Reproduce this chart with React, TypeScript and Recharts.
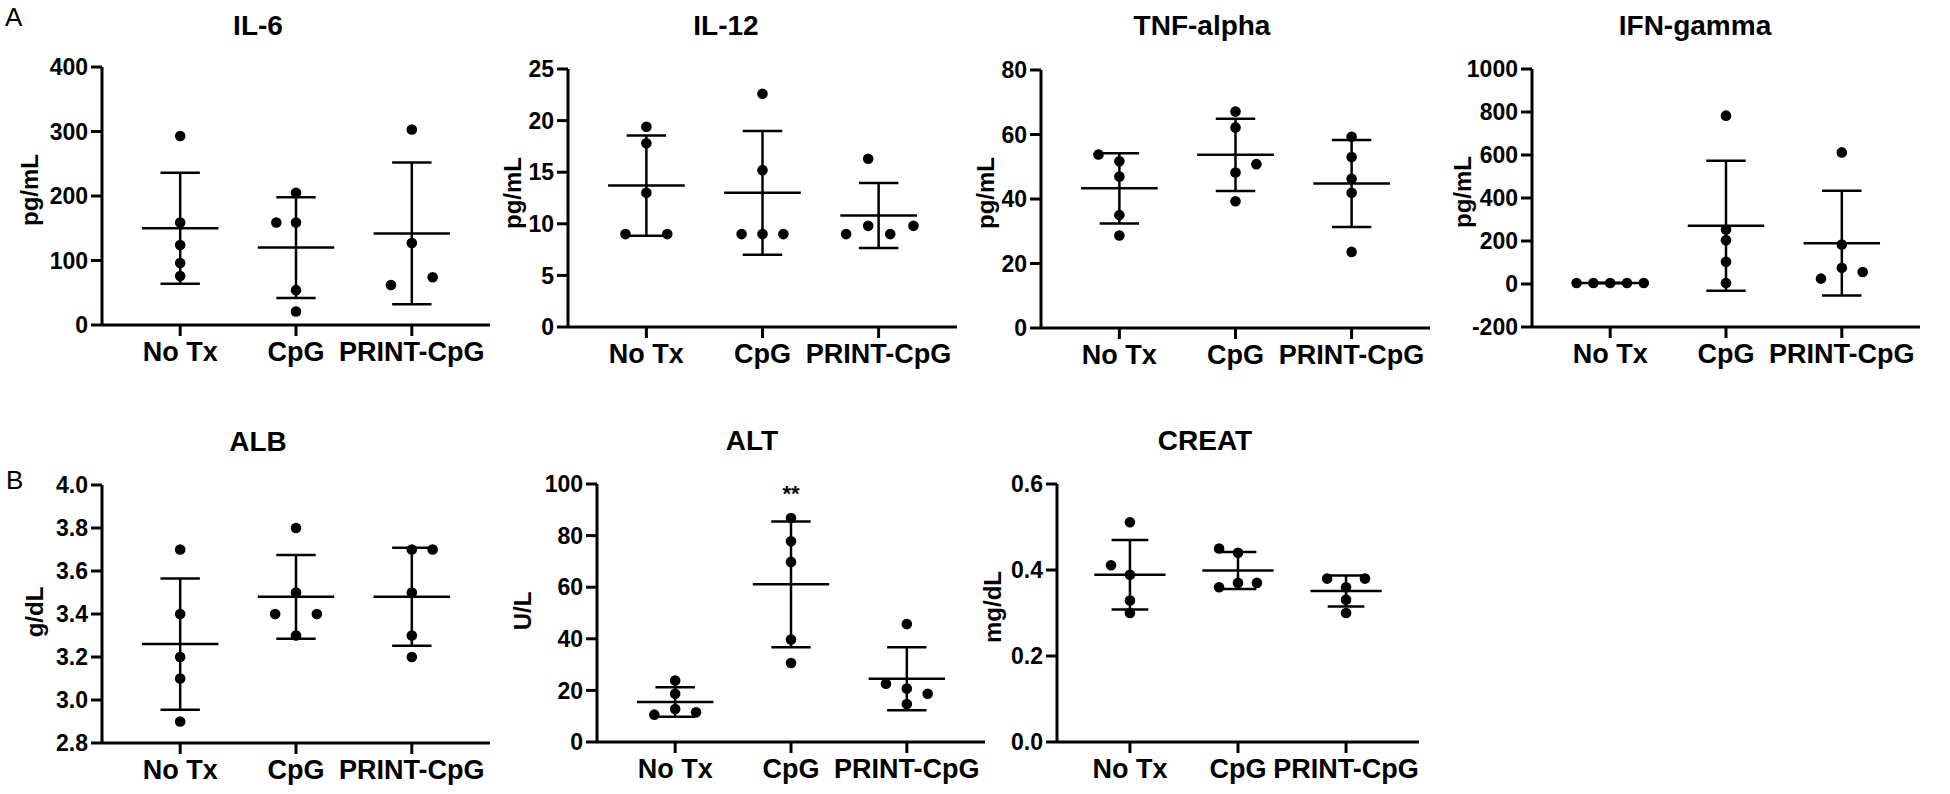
import { ScatterChart, Scatter, XAxis, YAxis, ReferenceLine, ReferenceDot } from "recharts";

const groups = ["No Tx", "CpG", "PRINT-CpG"];

// IL-6 (pg/mL)
const il6Values = [[293, 159, 124, 96, 76], [205, 159, 159, 54, 21], [303, 127, 62, 74]];
const il6Jitter = [[0, 0, 0, 0, 0], [0, -0.17, 0, 0, 0], [0, 0, -0.18, 0.18]];
const il6Mean = [150, 120, 142];
const il6Sd = [86, 78, 110];
const il6Ticks = [0, 100, 200, 300, 400];

// IL-12 (pg/mL)
const il12Values = [[19.4, 17.8, 13.0, 9.0, 9.0], [22.6, 15.2, 9.0, 9.0, 9.0], [16.3, 9.0, 9.8, 9.0, 9.8]];
const il12Jitter = [[0, 0, 0, -0.18, 0.18], [0, 0, -0.18, 0, 0.18], [-0.09, -0.28, -0.09, 0.1, 0.3]];
const il12Mean = [13.7, 13.0, 10.8];
const il12Sd = [4.85, 6.0, 3.15];
const il12Ticks = [0, 5, 10, 15, 20, 25];

// TNF-alpha (pg/mL)
const tnfValues = [[53.8, 51.7, 47.0, 35.0, 28.7], [67.1, 62.2, 50.8, 48.2, 39.3], [59.3, 53.0, 46.3, 41.9, 23.6]];
const tnfJitter = [[-0.18, 0, 0, 0, 0], [0, 0, 0.18, 0, 0], [0, 0, 0, 0, 0]];
const tnfMean = [43.3, 53.7, 44.8];
const tnfSd = [10.9, 11.2, 13.5];
const tnfTicks = [0, 20, 40, 60, 80];

// IFN-gamma (pg/mL)
const ifnValues = [[5, 5, 5, 5, 5], [783, 253, 204, 103, 5], [612, 184, 75, 25, 56]];
const ifnJitter = [[-0.29, -0.145, 0, 0.145, 0.29], [0, 0, 0, 0, 0], [0, 0, 0, -0.18, 0.18]];
const ifnMean = [5, 271, 190];
const ifnSd = [0, 302, 244];
const ifnTicks = [-200, 0, 200, 400, 600, 800, 1000];

// ALB (g/dL)
const albValues = [[3.7, 3.4, 3.2, 3.1, 2.9], [3.8, 3.5, 3.4, 3.4, 3.3], [3.7, 3.7, 3.5, 3.3, 3.2]];
const albJitter = [[0, 0, 0, 0, 0], [0, 0, -0.18, 0.18, 0], [0, 0.18, 0, 0, 0]];
const albMean = [3.26, 3.48, 3.48];
const albSd = [0.305, 0.195, 0.228];
const albTicks = [2.8, 3.0, 3.2, 3.4, 3.6, 3.8, 4.0];

// ALT (U/L)
const altValues = [[23.8, 18.7, 12.8, 10.6, 11.5], [86.8, 77.8, 69.8, 39.7, 30.6], [45.7, 22.6, 20.7, 18.7, 14.7]];
const altJitter = [[0, 0, 0, -0.18, 0.18], [0, 0, 0, 0, 0], [0, -0.18, 0, 0.18, 0]];
const altMean = [15.5, 61.1, 24.5];
const altSd = [5.75, 24.4, 12.2];
const altTicks = [0, 20, 40, 60, 80, 100];

// CREAT (mg/dL)
const creatValues = [[0.511, 0.411, 0.389, 0.329, 0.3], [0.45, 0.44, 0.36, 0.37, 0.37], [0.38, 0.38, 0.36, 0.331, 0.3]];
const creatJitter = [[0, -0.175, 0, 0, 0], [-0.175, 0, -0.175, 0, 0.175], [-0.175, 0.175, 0, 0, 0]];
const creatMean = [0.389, 0.399, 0.351];
const creatSd = [0.081, 0.043, 0.036];
const creatTicks = [0, 0.2, 0.4, 0.6];

const FONT = "'Liberation Sans', Arial, Helvetica, sans-serif";
const YW = 110;
const MT = 16;
const MR = 24;
const XH = 58;
const AXIS_W = 3;
const LINE_W = 2.5;
const DOT_R = 5.3;
const MEAN_HALF = 0.33;
const CAP_HALF = 0.17;
const X_PAD = 0.675;

// layout: plot box (x0..x1, y0..y1), title centre, unit label centre
const panels = [
  { title: "IL-6", unit: "pg/mL", values: il6Values, jitter: il6Jitter, mean: il6Mean, sd: il6Sd, ticks: il6Ticks, decimals: 0,
    box: { x0: 102, x1: 490, y0: 67, y1: 325 }, titleAt: [258, 26], unitAt: [29.5, 190] },
  { title: "IL-12", unit: "pg/mL", values: il12Values, jitter: il12Jitter, mean: il12Mean, sd: il12Sd, ticks: il12Ticks, decimals: 0,
    box: { x0: 568, x1: 957, y0: 69, y1: 327 }, titleAt: [726, 26], unitAt: [513, 193] },
  { title: "TNF-alpha", unit: "pg/mL", values: tnfValues, jitter: tnfJitter, mean: tnfMean, sd: tnfSd, ticks: tnfTicks, decimals: 0,
    box: { x0: 1041, x1: 1430, y0: 70, y1: 328 }, titleAt: [1202, 26], unitAt: [986, 193] },
  { title: "IFN-gamma", unit: "pg/mL", values: ifnValues, jitter: ifnJitter, mean: ifnMean, sd: ifnSd, ticks: ifnTicks, decimals: 0,
    box: { x0: 1532, x1: 1920, y0: 69, y1: 327 }, titleAt: [1695, 26], unitAt: [1463, 192] },
  { title: "ALB", unit: "g/dL", values: albValues, jitter: albJitter, mean: albMean, sd: albSd, ticks: albTicks, decimals: 1,
    box: { x0: 102, x1: 490, y0: 485, y1: 743 }, titleAt: [258, 442], unitAt: [34.5, 612] },
  { title: "ALT", unit: "U/L", values: altValues, jitter: altJitter, mean: altMean, sd: altSd, ticks: altTicks, decimals: 0,
    box: { x0: 597, x1: 985, y0: 484, y1: 742 }, titleAt: [752, 441], unitAt: [523, 611], note: { group: 1, text: "**" } },
  { title: "CREAT", unit: "mg/dL", values: creatValues, jitter: creatJitter, mean: creatMean, sd: creatSd, ticks: creatTicks, decimals: 1,
    box: { x0: 1057, x1: 1419, y0: 484, y1: 742 }, titleAt: [1205, 441], unitAt: [993, 607] },
];

const axisStyle = { stroke: "#000", strokeWidth: AXIS_W };

function DotPlot({ panel }: { panel: any }) {
  const { values, jitter, mean, sd, ticks, decimals, box, note } = panel;
  const width = box.x1 - box.x0 + YW + MR;
  const height = box.y1 - box.y0 + MT + XH;
  const points = values.flatMap((vals: number[], g: number) =>
    vals.map((v, k) => ({ x: g + jitter[g][k], y: v }))
  );

  return (
    <div style={{ position: "absolute", left: box.x0 - YW, top: box.y0 - MT }}>
      <ScatterChart width={width} height={height} margin={{ top: MT, right: MR, bottom: 0, left: 0 }}>
        <XAxis
          type="number"
          dataKey="x"
          domain={[-X_PAD, groups.length - 1 + X_PAD]}
          ticks={[0, 1, 2]}
          tickFormatter={(v: number) => groups[v]}
          interval={0}
          allowDataOverflow
          height={XH}
          tickSize={11}
          tickMargin={6}
          axisLine={axisStyle}
          tickLine={axisStyle}
          tick={{ fill: "#000", fontSize: 27, fontWeight: 700, fontFamily: FONT }}
        />
        <YAxis
          type="number"
          dataKey="y"
          domain={[ticks[0], ticks[ticks.length - 1]]}
          ticks={ticks}
          interval={0}
          allowDataOverflow
          width={YW}
          tickSize={11}
          tickMargin={3}
          tickFormatter={(v: number) => v.toFixed(decimals)}
          axisLine={axisStyle}
          tickLine={axisStyle}
          tick={{ fill: "#000", fontSize: 23, fontWeight: 700, fontFamily: FONT }}
        />
        {mean.map((m: number, g: number) => (
          <ReferenceLine key={"mean" + g} segment={[{ x: g - MEAN_HALF, y: m }, { x: g + MEAN_HALF, y: m }]} stroke="#000" strokeWidth={LINE_W} />
        ))}
        {mean.map((m: number, g: number) => (
          <ReferenceLine key={"sd" + g} segment={[{ x: g, y: m - sd[g] }, { x: g, y: m + sd[g] }]} stroke="#000" strokeWidth={LINE_W} />
        ))}
        {mean.map((m: number, g: number) => (
          <ReferenceLine key={"hi" + g} segment={[{ x: g - CAP_HALF, y: m + sd[g] }, { x: g + CAP_HALF, y: m + sd[g] }]} stroke="#000" strokeWidth={LINE_W} />
        ))}
        {mean.map((m: number, g: number) => (
          <ReferenceLine key={"lo" + g} segment={[{ x: g - CAP_HALF, y: m - sd[g] }, { x: g + CAP_HALF, y: m - sd[g] }]} stroke="#000" strokeWidth={LINE_W} />
        ))}
        <Scatter
          data={points}
          isAnimationActive={false}
          shape={(p: any) => <circle cx={p.cx} cy={p.cy} r={DOT_R} fill="#000" />}
        />
        {note && (
          <ReferenceDot
            x={note.group}
            y={Math.max(...values[note.group])}
            r={0}
            fill="none"
            stroke="none"
            label={{ value: note.text, position: "top", offset: 17, fill: "#000", fontSize: 22, fontWeight: 700, fontFamily: FONT }}
          />
        )}
      </ScatterChart>
    </div>
  );
}

const textBase = { position: "absolute" as const, fontFamily: FONT, color: "#000", lineHeight: 1, whiteSpace: "nowrap" as const };

export default function App() {
  return (
    <div style={{ position: "absolute", left: 0, top: 0, width: 1950, height: 794, background: "#fff", overflow: "hidden" }}>
      <div style={{ ...textBase, left: 5, top: 3.5, fontSize: 26 }}>A</div>
      <div style={{ ...textBase, left: 6, top: 466.5, fontSize: 26 }}>B</div>
      {panels.map((p) => (
        <div key={p.title}>
          <div style={{ ...textBase, left: p.titleAt[0], top: p.titleAt[1], fontSize: 28, fontWeight: 700, transform: "translate(-50%, -50%)" }}>
            {p.title}
          </div>
          <div style={{ ...textBase, left: p.unitAt[0], top: p.unitAt[1], fontSize: 24, fontWeight: 700, transform: "translate(-50%, -50%) rotate(-90deg)" }}>
            {p.unit}
          </div>
          <DotPlot panel={p} />
        </div>
      ))}
    </div>
  );
}
